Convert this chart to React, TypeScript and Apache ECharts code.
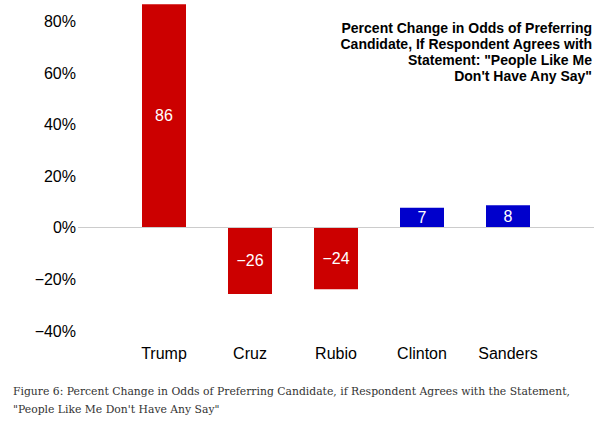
import React, { useEffect, useRef } from "react";
import * as echarts from "echarts";

const candidates = ["Trump", "Cruz", "Rubio", "Clinton", "Sanders"];
const parties = ["R", "R", "R", "D", "D"];
const values = [86.4, -26.0, -24.2, 7.4, 8.4];
const yTicks = { min: -40, max: 80, step: 20 };

const titleText =
  'Percent Change in Odds of Preferring\nCandidate, If Respondent Agrees with\nStatement: "People Like Me\nDon\'t Have Any Say"';
const captionText =
  'Figure 6: Percent Change in Odds of Preferring Candidate, if Respondent Agrees with the Statement,\n"People Like Me Don\'t Have Any Say"';

const partyColor: Record<string, string> = { R: "#CC0000", D: "#0000CC" };
const SANS = "'Liberation Sans', Arial, Helvetica, sans-serif";
const minus = (n: number) => (n < 0 ? "\u2212" + Math.abs(n) : String(n));

export default function App() {
  const ref = useRef<HTMLDivElement>(null);
  useEffect(() => {
    if (!ref.current) return;
    const chart = echarts.init(ref.current, null, { renderer: "svg" });
    const categories = ["", ...candidates, ""];
    const data = [
      null,
      ...values.map((v, i) => ({
        value: v,
        itemStyle: { color: partyColor[parties[i]] },
      })),
      null,
    ];
    chart.setOption({
      animation: false,
      backgroundColor: "#ffffff",
      grid: { left: 78, right: 15, top: 20.8, bottom: 95 },
      xAxis: {
        type: "category",
        data: categories,
        boundaryGap: false,
        axisLine: { show: false },
        axisTick: { show: false },
        splitLine: { show: false },
        axisLabel: {
          color: "#000",
          fontSize: 16,
          fontFamily: SANS,
          margin: 15,
          interval: 0,
        },
      },
      yAxis: {
        type: "value",
        min: yTicks.min,
        max: yTicks.max,
        interval: yTicks.step,
        axisLine: { show: false },
        axisTick: { show: false },
        splitLine: { show: false },
        axisLabel: {
          color: "#000",
          fontSize: 16,
          fontFamily: SANS,
          margin: 2,
          verticalAlign: "top",
          padding: [-7, 0, 0, 0],
          formatter: (v: number) => minus(v) + "%",
        },
      },
      series: [
        {
          type: "bar",
          data,
          barWidth: 44,
          clip: false,
          label: {
            show: true,
            position: "inside",
            color: "#fff",
            fontSize: 16,
            fontFamily: SANS,
            formatter: (p: any) => minus(Math.round(p.value)),
          },
          markLine: {
            silent: true,
            symbol: ["none", "none"],
            label: { show: false },
            lineStyle: { color: "#cccccc", width: 1, type: "solid" },
            data: [{ yAxis: 0 }],
          },
        },
      ],
      graphic: [
        {
          type: "text",
          right: 17,
          top: 20,
          style: {
            text: titleText,
            fontSize: 14,
            fontWeight: "bold",
            fontFamily: SANS,
            fill: "#000",
            textAlign: "right",
            lineHeight: 16,
          },
        },
        {
          type: "text",
          left: 13,
          top: 382,
          style: {
            text: captionText,
            fontSize: 10.8,
            fontFamily: "'DejaVu Serif', serif",
            fill: "#333333",
            lineHeight: 18,
          },
        },
      ],
    });
    return () => chart.dispose();
  }, []);
  return (
    <div
      ref={ref}
      style={{ position: "absolute", left: 0, top: 0, width: 609, height: 425 }}
    />
  );
}
